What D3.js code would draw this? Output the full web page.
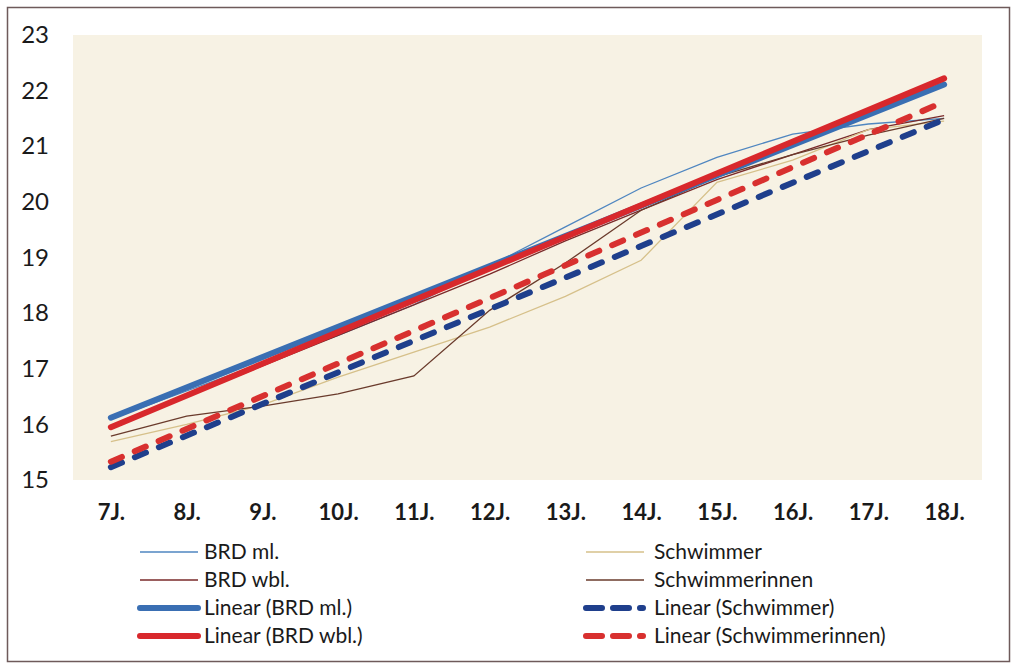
<!DOCTYPE html>
<html>
<head>
<meta charset="utf-8">
<script src="https://cdn.jsdelivr.net/npm/d3@7"></script>
<style>
  body { margin: 0; background: #fff; }
  svg text { font-family: Lato, "Open Sans", sans-serif; fill: #1a1a1a; }
</style>
</head>
<body>
<div id="chart"></div>
<script>
document.addEventListener('DOMContentLoaded', function() {
    const width = 1024;
    const height = 671;

    // categories (age)
    const ages = ["7J.", "8J.", "9J.", "10J.", "11J.", "12J.", "13J.", "14J.", "15J.", "16J.", "17J.", "18J."];
    const yTicks = [15, 16, 17, 18, 19, 20, 21, 22, 23];

    // thin series
    const brdMl   = [16.1, 16.6, 17.1, 17.6, 18.15, 18.85, 19.55, 20.25, 20.8, 21.22, 21.4, 21.5];
    const brdWbl  = [15.95, 16.5, 17.05, 17.6, 18.15, 18.7, 19.3, 19.85, 20.4, 20.85, 21.3, 21.55];
    const schw    = [15.69, 16.0, 16.35, 16.85, 17.3, 17.75, 18.3, 18.95, 20.35, 20.75, 21.3, 21.45];
    const schwInn = [15.79, 16.15, 16.33, 16.55, 16.87, 18.05, 18.9, 19.85, 20.45, 20.85, 21.2, 21.5];

    // linear trend lines: value at 7J. and at 18J.
    const trendBrdMl   = [16.12, 22.11];
    const trendBrdWbl  = [15.95, 22.22];
    const trendSchw    = [15.23, 21.48];
    const trendSchwInn = [15.33, 21.8];

    const plot = { left: 73, right: 982, top: 35, bottom: 480 };

    const svg = d3.select("#chart").append("svg")
        .attr("width", width)
        .attr("height", height);

    // outer frame
    svg.append("rect")
        .attr("x", 7.5).attr("y", 7.5)
        .attr("width", 1002).attr("height", 654)
        .attr("fill", "#fff")
        .attr("stroke", "#6e5a5a")
        .attr("stroke-width", 1.5);

    svg.append("rect")
        .attr("x", plot.left).attr("y", plot.top)
        .attr("width", plot.right - plot.left)
        .attr("height", plot.bottom - plot.top)
        .attr("fill", "#f7f2e4");

    const x = d3.scalePoint().domain(ages).range([plot.left, plot.right]).padding(0.5);
    const y = d3.scaleLinear().domain([15, 23]).range([plot.bottom, plot.top]);

    // y axis labels
    const yAxis = d3.axisLeft(y).tickValues(yTicks).tickSize(0).tickPadding(0).tickFormat(d3.format("d"));
    const gy = svg.append("g").attr("transform", "translate(49,0)").call(yAxis);
    gy.select(".domain").remove();
    gy.selectAll("text").style("font-size", "24px").style("font-family", "Lato, sans-serif").attr("fill", "#1a1a1a");

    // x axis labels
    const xAxis = d3.axisBottom(x).tickSize(0).tickPadding(0);
    const gx = svg.append("g").attr("transform", "translate(0,504)").call(xAxis);
    gx.select(".domain").remove();
    gx.selectAll("text").style("font-size", "22px").style("font-weight", "bold")
        .style("font-family", "Lato, sans-serif").attr("fill", "#1a1a1a");

    const line = d3.line()
        .x((d, i) => x(ages[i]))
        .y(d => y(d));

    const trendLine = d3.line()
        .x((d, i) => x(ages[i === 0 ? 0 : ages.length - 1]))
        .y(d => y(d));

    const series = [
        { name: "BRD ml.", values: brdMl, color: "#4f86c0", w: 1.3 },
        { name: "BRD wbl.", values: brdWbl, color: "#7a2a2a", w: 1.3 },
        { name: "Schwimmer", values: schw, color: "#d6c08a", w: 1.3 },
        { name: "Schwimmerinnen", values: schwInn, color: "#6a3b2c", w: 1.3 }
    ];
    const trends = [
        { name: "Linear (BRD ml.)", values: trendBrdMl, color: "#3a6fb3", w: 6, dash: null },
        { name: "Linear (BRD wbl.)", values: trendBrdWbl, color: "#d8282c", w: 6, dash: null },
        { name: "Linear (Schwimmer)", values: trendSchw, color: "#1f3f8c", w: 6, dash: "12,14" },
        { name: "Linear (Schwimmerinnen)", values: trendSchwInn, color: "#d8302f", w: 6, dash: "12,14" }
    ];

    svg.append("g").selectAll("path")
        .data(series)
        .enter().append("path")
        .attr("d", d => line(d.values))
        .attr("fill", "none")
        .attr("stroke", d => d.color)
        .attr("stroke-width", d => d.w);

    svg.append("g").selectAll("path")
        .data(trends)
        .enter().append("path")
        .attr("d", d => trendLine(d.values))
        .attr("fill", "none")
        .attr("stroke", d => d.color)
        .attr("stroke-width", d => d.w)
        .attr("stroke-linecap", "round")
        .attr("stroke-dasharray", d => d.dash);

    // legend, two columns
    const legendItems = [
        Object.assign({ col: 0, row: 0 }, series[0]),
        Object.assign({ col: 0, row: 1 }, series[1]),
        Object.assign({ col: 0, row: 2 }, trends[0]),
        Object.assign({ col: 0, row: 3 }, trends[1]),
        Object.assign({ col: 1, row: 0 }, series[2]),
        Object.assign({ col: 1, row: 1 }, series[3]),
        Object.assign({ col: 1, row: 2 }, trends[2]),
        Object.assign({ col: 1, row: 3 }, trends[3])
    ];
    const colX = [140, 586];
    const rowY = [552, 580, 608, 636];

    const leg = svg.append("g").selectAll("g")
        .data(legendItems)
        .enter().append("g")
        .attr("transform", d => `translate(${colX[d.col]},${rowY[d.row]})`);

    leg.append("line")
        .attr("x1", d => d.w > 2 ? 0 : 0)
        .attr("x2", d => d.dash ? 57 : (d.w > 2 ? 58 : 58))
        .attr("y1", 0).attr("y2", 0)
        .attr("stroke", d => d.color)
        .attr("stroke-width", d => d.w > 2 ? 6 : 1.3)
        .attr("stroke-linecap", d => d.w > 2 ? "round" : "butt")
        .attr("stroke-dasharray", d => d.dash ? "16,11" : null);

    leg.append("text")
        .attr("x", d => d.col === 0 ? 64 : 68)
        .attr("dy", "0.35em")
        .style("font-size", "21px")
        .text(d => d.name);
});
</script>
</body>
</html>
